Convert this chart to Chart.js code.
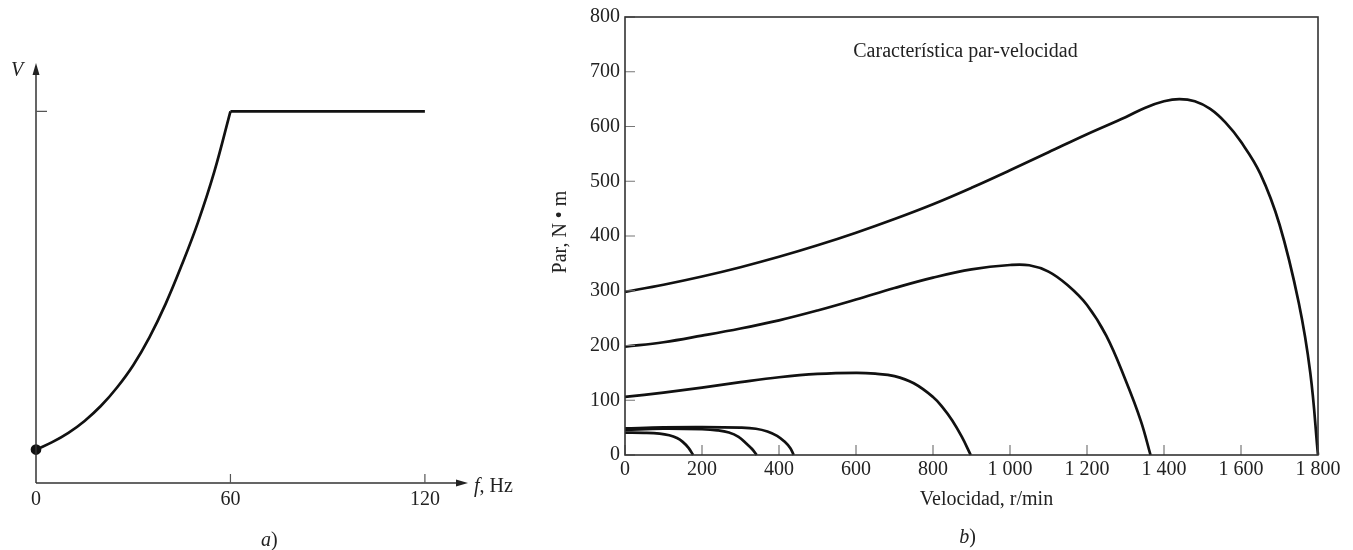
<!DOCTYPE html>
<html lang="es">
<head>
<meta charset="utf-8">
<title>Característica par-velocidad</title>
<script src="https://cdn.jsdelivr.net/npm/chart.js@4.4.1/dist/chart.umd.min.js"></script>
<style>
  html, body { margin: 0; padding: 0; background: #fff; }
  #wrap { position: relative; width: 1353px; height: 550px; }
  .panel { position: absolute; top: 0; height: 550px; }
  #panelA { left: 0; width: 530px; }
  #panelB { left: 530px; width: 823px; }
</style>
</head>
<body>
<div id="wrap">
  <div class="panel" id="panelA"><canvas id="chartA"></canvas></div>
  <div class="panel" id="panelB"><canvas id="chartB"></canvas></div>
</div>
<script>
// --- panel a) tension vs frecuencia ---
const freqRamp = [0, 5, 10, 15, 20, 25, 30, 35, 40, 45, 50, 55, 60];
const voltRamp = [0.09, 0.11, 0.135, 0.167, 0.207, 0.257, 0.317, 0.392, 0.482, 0.587, 0.702, 0.837, 1.0];
const freqFlat = [60, 120];
const voltFlat = [1.0, 1.0];
const freqTicks = [0, 60, 120];
const freqTickLabels = ['0', '60', '120'];
const voltTick = 1.0;

// --- panel b) par-velocidad ---
const speed1 = [0, 100, 200, 300, 400, 500, 600, 700, 800, 900, 1000, 1100, 1200, 1300, 1350, 1400, 1440, 1480, 1520, 1560, 1600, 1650, 1700, 1750, 1780, 1800];
const torque1 = [298, 311, 326, 343, 362, 383, 406, 431, 458, 488, 520, 553, 586, 617, 634, 646, 650, 646, 632, 607, 572, 514, 421, 278, 150, 0];
const speed2 = [0, 100, 200, 300, 400, 500, 600, 700, 800, 900, 1000, 1050, 1100, 1150, 1200, 1250, 1300, 1340, 1365];
const torque2 = [198, 206, 218, 231, 246, 264, 284, 305, 324, 339, 347, 346.5, 335, 310, 274, 218, 137, 62, 0];
const speed3 = [0, 100, 200, 300, 400, 500, 600, 650, 700, 750, 800, 825, 850, 875, 898];
const torque3 = [106, 114, 123, 133, 142, 148, 150, 148.5, 144, 131, 106, 87, 63, 33, 0];
const speed4 = [0, 100, 200, 300, 340, 370, 395, 415, 430, 438];
const torque4 = [48.5, 50.5, 51, 50, 48, 43, 35, 24, 12, 0];
const speed5 = [0, 100, 200, 240, 270, 295, 315, 330, 342];
const torque5 = [46, 48, 47, 45, 41, 33, 21, 11, 0];
const speed6 = [0, 50, 90, 115, 135, 150, 165, 177];
const torque6 = [41, 40.5, 39, 36, 31, 24, 13, 0];

const speedTicks = [0, 200, 400, 600, 800, 1000, 1200, 1400, 1600, 1800];
const speedTickLabels = ['0', '200', '400', '600', '800', '1 000', '1 200', '1 400', '1 600', '1 800'];
const torqueTicks = [0, 100, 200, 300, 400, 500, 600, 700, 800];
const torqueTickLabels = ['0', '100', '200', '300', '400', '500', '600', '700', '800'];

const SERIF = "'Liberation Serif', 'Times New Roman', serif";
Chart.defaults.font.family = SERIF;
Chart.defaults.font.size = 20;
Chart.defaults.color = '#222';

function toPoints(xs, ys) {
    return xs.map((x, i) => ({ x: x, y: ys[i] }));
}

function curve(xs, ys) {
    return {
        data: toPoints(xs, ys),
        showLine: true,
        borderColor: '#111',
        borderWidth: 2.7,
        pointRadius: 0,
        tension: 0.4,
        clip: false
    };
}

// texto con parte en cursiva
function mixedText(ctx, parts, x, y, align) {
    let total = 0;
    parts.forEach(p => {
        ctx.font = (p.italic ? 'italic ' : '') + '20px ' + SERIF;
        p.w = ctx.measureText(p.t).width;
        total += p.w;
    });
    let cx = align === 'left' ? x : x - total / 2;
    ctx.textAlign = 'left';
    ctx.textBaseline = 'middle';
    parts.forEach(p => {
        ctx.font = (p.italic ? 'italic ' : '') + '20px ' + SERIF;
        ctx.fillText(p.t, cx, y);
        cx += p.w;
    });
}

// ---------- grafica a ----------
const axesA = {
    id: 'axesA',
    afterDatasetsDraw(chart) {
        const ctx = chart.ctx;
        const { left, right, top, bottom } = chart.chartArea;
        const xs = chart.scales.x, ys = chart.scales.y;
        ctx.save();
        ctx.strokeStyle = '#333';
        ctx.fillStyle = '#222';
        ctx.lineWidth = 1.5;
        ctx.beginPath();
        ctx.moveTo(left, bottom); ctx.lineTo(right - 6, bottom);
        ctx.moveTo(left, bottom); ctx.lineTo(left, top + 6);
        ctx.stroke();
        // flechas
        ctx.beginPath();
        ctx.moveTo(right, bottom); ctx.lineTo(right - 12, bottom - 3.5); ctx.lineTo(right - 12, bottom + 3.5);
        ctx.closePath(); ctx.fill();
        ctx.beginPath();
        ctx.moveTo(left, top); ctx.lineTo(left - 3.5, top + 12); ctx.lineTo(left + 3.5, top + 12);
        ctx.closePath(); ctx.fill();
        // marcas
        ctx.strokeStyle = '#555';
        ctx.lineWidth = 1.2;
        ctx.beginPath();
        freqTicks.forEach(v => {
            if (v === 0) return;
            const px = xs.getPixelForValue(v);
            ctx.moveTo(px, bottom); ctx.lineTo(px, bottom - 9);
        });
        const vy = ys.getPixelForValue(voltTick);
        ctx.moveTo(left, vy); ctx.lineTo(left + 11, vy);
        ctx.stroke();
        // textos
        ctx.fillStyle = '#222';
        mixedText(ctx, [{ t: 'V', italic: true }], left - 19, top + 8, 'center');
        mixedText(ctx, [{ t: 'f', italic: true }, { t: ', Hz' }], right + 6, bottom + 4, 'left');
        mixedText(ctx, [{ t: 'a', italic: true }, { t: ')' }], (left + xs.getPixelForValue(60)) / 2 + 136, bottom + 58, 'center');
        ctx.restore();
    }
};

new Chart(document.getElementById('chartA'), {
    type: 'scatter',
    data: {
        datasets: [
            Object.assign(curve(freqRamp, voltRamp), {
                pointRadius: ctx => ctx.dataIndex === 0 ? 4 : 0,
                pointBackgroundColor: '#111',
                pointBorderColor: '#111'
            }),
            Object.assign(curve(freqFlat, voltFlat), { tension: 0 })
        ]
    },
    options: {
        responsive: true,
        maintainAspectRatio: false,
        animation: false,
        layout: { padding: { left: 36, right: 62, top: 63, bottom: 0 } },
        plugins: { legend: { display: false }, tooltip: { enabled: false } },
        scales: {
            x: {
                type: 'linear', min: 0, max: 133.3,
                afterBuildTicks: s => { s.ticks = freqTicks.map(v => ({ value: v })); },
                afterFit: s => { s.height = 67; },
                ticks: { callback: (v, i) => freqTickLabels[i], padding: 5, maxRotation: 0, autoSkip: false },
                grid: { display: false, drawTicks: false },
                border: { display: false }
            },
            y: {
                type: 'linear', min: 0, max: 1.13,
                display: false
            }
        }
    },
    plugins: [axesA]
});

// ---------- grafica b ----------
const frameB = {
    id: 'frameB',
    afterDatasetsDraw(chart) {
        const ctx = chart.ctx;
        const { left, right, top, bottom } = chart.chartArea;
        const xs = chart.scales.x, ys = chart.scales.y;
        const cx = (left + right) / 2;
        ctx.save();
        ctx.strokeStyle = '#777';
        ctx.lineWidth = 1.2;
        ctx.beginPath();
        speedTicks.forEach(v => {
            const px = xs.getPixelForValue(v);
            ctx.moveTo(px, bottom); ctx.lineTo(px, bottom - 10);
        });
        torqueTicks.forEach(v => {
            const py = ys.getPixelForValue(v);
            ctx.moveTo(left, py); ctx.lineTo(left + 10, py);
        });
        ctx.stroke();
        ctx.strokeStyle = '#333';
        ctx.lineWidth = 1.6;
        ctx.strokeRect(left, top, right - left, bottom - top);

        ctx.fillStyle = '#222';
        mixedText(ctx, [{ t: 'Característica par-velocidad' }], cx - 6, top + 35, 'center');
        mixedText(ctx, [{ t: 'Velocidad, r/min' }], cx + 15, bottom + 45, 'center');
        mixedText(ctx, [{ t: 'b', italic: true }, { t: ')' }], cx - 4, bottom + 83, 'center');
        ctx.translate(left - 64, (top + bottom) / 2 - 4);
        ctx.rotate(-Math.PI / 2);
        mixedText(ctx, [{ t: 'Par, N • m' }], 0, 0, 'center');
        ctx.restore();
    }
};

new Chart(document.getElementById('chartB'), {
    type: 'scatter',
    data: {
        datasets: [
            curve(speed1, torque1),
            curve(speed2, torque2),
            curve(speed3, torque3),
            curve(speed4, torque4),
            curve(speed5, torque5),
            curve(speed6, torque6)
        ]
    },
    options: {
        responsive: true,
        maintainAspectRatio: false,
        animation: false,
        layout: { padding: { left: 0, right: 35, top: 17, bottom: 0 } },
        plugins: { legend: { display: false }, tooltip: { enabled: false } },
        scales: {
            x: {
                type: 'linear', min: 0, max: 1800,
                afterBuildTicks: s => { s.ticks = speedTicks.map(v => ({ value: v })); },
                afterFit: s => { s.height = 95; },
                ticks: { callback: (v, i) => speedTickLabels[i], padding: 3, maxRotation: 0, autoSkip: false },
                grid: { display: false, drawTicks: false },
                border: { display: false }
            },
            y: {
                type: 'linear', min: 0, max: 800,
                afterBuildTicks: s => { s.ticks = torqueTicks.map(v => ({ value: v })); },
                afterFit: s => { s.width = 95; },
                ticks: { callback: (v, i) => torqueTickLabels[i], padding: 5, autoSkip: false },
                grid: { display: false, drawTicks: false },
                border: { display: false }
            }
        }
    },
    plugins: [frameB]
});
</script>
</body>
</html>
